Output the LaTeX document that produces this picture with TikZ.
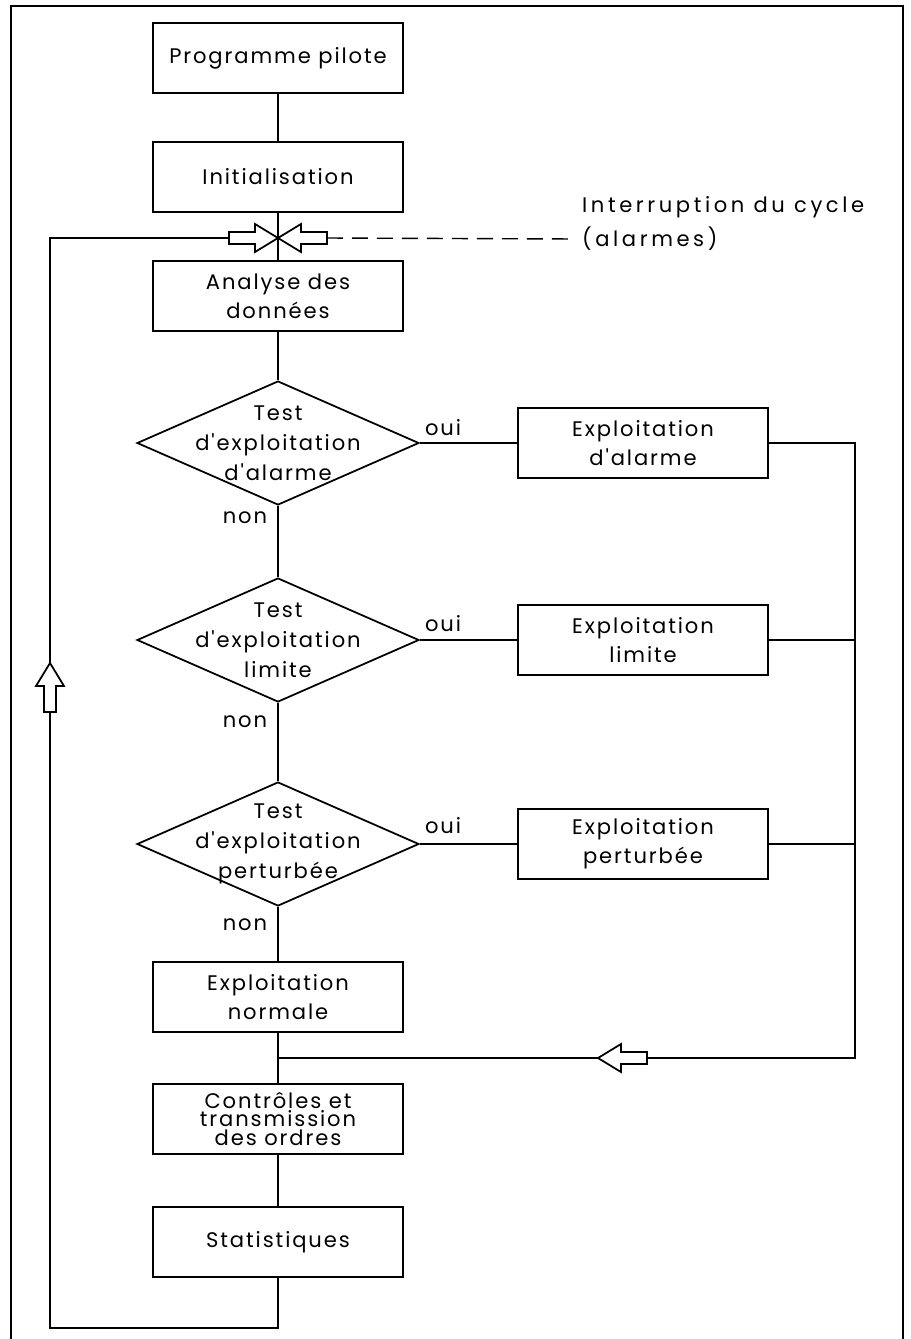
\documentclass[tikz,border=0pt]{standalone}
\usepackage{fontspec}
\setmainfont{Poppins}[LetterSpace=9, Ligatures=TeXOff]
\newfontfamily\widefont{Poppins}[LetterSpace=17]
\usetikzlibrary{positioning}
\usetikzlibrary{shapes.geometric}
\tikzset{
	x=0.02cm, y=-0.02cm,
	every node/.style={align=center,font=\fontsize{12}{16.5}\selectfont},
	block/.style={rectangle, draw, line width=1pt, minimum width=5cm, minimum height=1.4cm, inner sep=0pt},
	test/.style={diamond, draw, line width=1pt, minimum width=5.64cm, minimum height=2.48cm, inner sep=0pt},
	testtext/.style={font=\fontsize{12}{17}\selectfont},
	link/.style={line width=0.8pt},
	hollow/.pic={\draw[line width=1pt, fill=white] (0,0) -- (-23,14) -- (-23,6) -- (-49,6) -- (-49,-6) -- (-23,-6) -- (-23,-14) -- cycle;}
}

\begin{document}
\begin{tikzpicture}
	\useasboundingbox (0,0) rectangle (910,1339);
	\draw[line width=0.6pt] (11,1339) -- (11,6) -- (903,6) -- (903,1339);

	\node[block] (prog) at (278,58) {Programme pilote};
	\node[block] (init) at (278,177) {Initialisation};
	\node[block] (ana) at (278,296) {Analyse des\\donn\'ees};
	
	\node[test] (d1) at (278,443) {};
	\node[testtext] (t1) at (d1) {Test\\d'exploitation\\d'alarme};
	\node[block] (alarm) at (643,443) {Exploitation\\d'alarme};
	
	\node[test] (d2) at (278,640) {};
	\node[testtext] (t2) at (d2) {Test\\d'exploitation\\limite};
	\node[block] (lim) at (643,640) {Exploitation\\limite};
	
	\node[test] (d3) at (278,844) {};
	\node[testtext] (t3) at (d3) {Test\\d'exploitation\\perturb\'ee};
	\node[block] (pert) at (643,844) {Exploitation\\perturb\'ee};
	
	\node[block] (norm) at (278,997) {Exploitation\\normale};
	\node[block, font=\fontsize{12}{10.5}\selectfont] (ctrl) at (278,1119) {Contr\^oles et\\transmission\\des ordres};
	\node[block] (stat) at (278,1242) {Statistiques};
	
	\node (oui1) at (443,428) {oui};
	\node (oui2) at (443,624) {oui};
	\node (oui3) at (443,826) {oui};
	\node (non1) at (245,518) {non};
	\node (non2) at (245,722) {non};
	\node (non3) at (245,925) {non};
	
	\node[anchor=west, font=\widefont\fontsize{12}{16}\selectfont] (intr) at (576,207) {Interruption du cycle};
	\node[anchor=west, font=\widefont\fontsize{12}{16}\selectfont] (alm) at (576,239) {(alarmes)};
	
	\coordinate (jn) at (278,238);
	\coordinate (la) at (229,238);
	\coordinate (ra) at (327,238);
	\coordinate (lb) at (50,1328);
	\coordinate (jb) at (278,1058);
	\coordinate (rx) at (855,1058);
	
	\draw[link] (prog) -- (init) -- (ana) -- (d1) -- (d2) -- (d3) -- (norm) -- (ctrl) -- (stat);
	\draw[link] (d1) -- (alarm);
	\draw[link] (d2) -- (lim);
	\draw[link] (d3) -- (pert);
	\draw[link] (alarm) -- (alarm -| rx) -- (rx) -- (jb);
	\draw[link] (lim) -- (lim -| rx);
	\draw[link] (pert) -- (pert -| rx);
	\draw[link] (stat) -- (stat |- lb) -- (lb) -- (lb |- la) -- (la);
	\draw[link, dash pattern=on 0.32cm off 0.18cm] (ra) -- (alm.west);
	
	\pic at (jn) {hollow};
	\pic[rotate=180] at (jn) {hollow};
	\pic[rotate=180] at (598,1058) {hollow};
	\pic[rotate=90] at (50,663) {hollow};
\end{tikzpicture}
\end{document}
